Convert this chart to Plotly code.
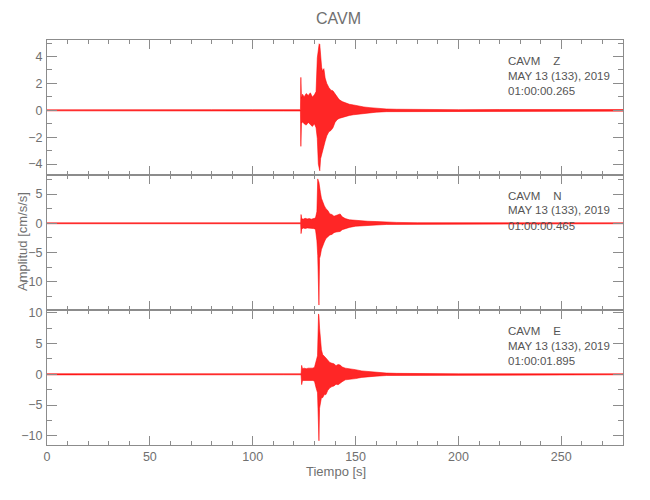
import plotly.graph_objects as go
from plotly.subplots import make_subplots

# ---------------- data (envelopes) ----------------
station = "CAVM"
components = ["Z", "N", "E"]
date_label = "MAY 13 (133), 2019"
start_times = ["01:00:00.265", "01:00:00.465", "01:00:01.895"]

t_z = [0, 20, 35, 45, 60, 80, 100, 115, 123.2, 123.4, 123.7, 124.2, 125, 126, 127, 128, 129, 130,
       130.8, 131.4, 131.9, 132.3, 132.6, 133.0, 133.5, 134, 134.6, 135.2, 136, 137, 138, 139, 140,
       141, 142, 143.5, 145, 147, 149, 151, 154, 157, 160, 165, 170, 180, 200, 220, 240, 260, 280]
hi_z = [0.04, 0.05, 0.07, 0.08, 0.05, 0.05, 0.05, 0.05, 0.05, 2.45, 0.9, 1.2, 1.0, 1.25, 1.1, 1.3, 1.0, 1.15,
        1.4, 3.9, 4.7, 4.95, 4.9, 3.9, 3.2, 2.9, 3.1, 2.4, 2.0, 1.7, 1.5, 1.45, 1.2,
        1.0, 0.8, 0.65, 0.55, 0.45, 0.4, 0.33, 0.25, 0.2, 0.15, 0.1, 0.08, 0.06, 0.05, 0.06, 0.06, 0.07, 0.06]
lo_z = [-0.04, -0.05, -0.07, -0.08, -0.05, -0.05, -0.05, -0.05, -0.05, -2.68, -1.0, -0.85, -1.0, -1.1, -0.9, -1.05, -1.2, -1.0,
        -1.3, -2.1, -4.0, -4.2, -4.5, -3.6, -3.4, -3.05, -2.7, -2.3, -1.9, -1.6, -1.5, -1.3, -0.9,
        -0.7, -0.6, -0.5, -0.45, -0.38, -0.33, -0.3, -0.22, -0.18, -0.14, -0.1, -0.08, -0.06, -0.05, -0.06, -0.06, -0.07, -0.06]

t_n = [0, 30, 60, 90, 115, 123.3, 123.5, 123.8, 124.5, 125.5, 126.5, 127.5, 128.5, 129.5, 130.5, 131.2,
       131.6, 131.9, 132.2, 132.5, 132.9, 133.4, 134, 134.8, 135.6, 136.5, 137.5, 138.5, 139.5, 140.5,
       141.5, 142.5, 143.5, 145, 147, 150, 153, 156, 160, 165, 170, 180, 200, 230, 260, 280]
hi_n = [0.08, 0.08, 0.08, 0.08, 0.08, 0.08, 1.5, 0.8, 0.7, 0.85, 0.75, 0.8, 0.7, 0.8, 0.9, 2.0,
        7.6, 7.3, 7.0, 6.0, 5.3, 4.3, 3.6, 3.0, 2.5, 2.2, 1.6, 1.5, 1.2, 1.3,
        1.5, 1.6, 1.1, 0.8, 0.6, 0.5, 0.45, 0.35, 0.3, 0.2, 0.15, 0.1, 0.08, 0.08, 0.08, 0.08]
lo_n = [-0.08, -0.08, -0.08, -0.08, -0.08, -0.08, -1.77, -1.0, -0.8, -0.9, -0.8, -0.9, -0.85, -0.9, -1.0, -3.0,
        -5.5, -8.0, -14.0, -6.0, -5.5, -4.5, -3.8, -3.2, -2.6, -2.3, -2.0, -1.9, -1.6, -1.5,
        -1.4, -1.4, -1.1, -0.9, -0.7, -0.5, -0.45, -0.35, -0.3, -0.2, -0.15, -0.1, -0.08, -0.08, -0.08, -0.08]

t_e = [0, 30, 60, 90, 115, 123.5, 123.8, 124.2, 125, 126, 127, 128, 129, 130, 130.8, 131.5,
       132.0, 132.2, 132.5, 132.9, 133.4, 134, 134.8, 135.6, 136.5, 137.5, 138.5, 139.5, 140.5,
       141.5, 142.5, 143.5, 145, 147, 150, 153, 156, 160, 165, 170, 180, 200, 230, 260, 280]
hi_e = [0.1, 0.08, 0.08, 0.08, 0.08, 0.08, 1.45, 0.9, 1.0, 0.9, 1.0, 0.95, 1.0, 1.1, 2.1, 3.0,
        9.8, 9.5, 7.5, 5.3, 4.0, 3.2, 3.0, 2.65, 2.3, 1.9, 1.8, 1.7, 1.4,
        1.6, 1.5, 1.2, 1.0, 0.85, 0.75, 0.55, 0.45, 0.35, 0.2, 0.15, 0.1, 0.08, 0.08, 0.08, 0.08]
lo_e = [-0.1, -0.08, -0.08, -0.08, -0.08, -0.08, -1.68, -1.0, -0.9, -1.0, -0.95, -1.0, -1.0, -1.1, -2.2, -3.0,
        -7.0, -10.8, -5.5, -4.5, -3.8, -3.8, -3.3, -3.3, -2.6, -2.2, -2.0, -1.9, -1.6,
        -1.7, -1.5, -1.2, -0.9, -0.8, -0.7, -0.5, -0.4, -0.3, -0.2, -0.15, -0.1, -0.08, -0.08, -0.08, -0.08]

traces = [(t_z, hi_z, lo_z), (t_n, hi_n, lo_n), (t_e, hi_e, lo_e)]
y_ranges = [[-4.81, 5.23], [-14.85, 8.27], [-11.48, 10.44]]
y_dticks = [2, 5, 5]
x_range = [0, 280]

# ---------------- figure ----------------
FONT = "Liberation Sans Narrow, Liberation Sans, Arial, sans-serif"
AX = "#8c8c8c"
TXT = "#707070"

fig = make_subplots(rows=3, cols=1, shared_xaxes=True, vertical_spacing=0)

for i, (t, hi, lo) in enumerate(traces):
    assert len(t) == len(hi) == len(lo)
    fig.add_trace(go.Scatter(
        x=list(t) + list(t)[::-1], y=list(hi) + list(lo)[::-1],
        mode="lines", fill="toself", fillcolor="rgba(255,0,0,0.85)",
        line=dict(color="rgba(255,0,0,0.9)", width=0.6), hoverinfo="skip", showlegend=False),
        row=i + 1, col=1)

for i in range(3):
    fig.update_xaxes(
        row=i + 1, col=1, range=x_range, showline=True, linecolor=AX, linewidth=1,
        mirror="ticks", ticks="inside", ticklen=9, tickcolor=AX, dtick=50, tick0=0,
        minor=dict(ticks="inside", ticklen=4, dtick=10, tickcolor=AX),
        showgrid=False, zeroline=False, showticklabels=(i == 2), automargin=False,
        tickfont=dict(family=FONT, size=12.5, color=TXT))
    fig.update_yaxes(
        row=i + 1, col=1, range=y_ranges[i], showline=True, linecolor=AX, linewidth=1,
        mirror="ticks", ticks="inside", ticklen=10, tickcolor=AX, dtick=y_dticks[i], tick0=0,
        minor=dict(ticks="inside", ticklen=5, dtick=y_dticks[i] / 2, tickcolor=AX),
        showgrid=False, zeroline=False, ticklabelstandoff=1, automargin=False,
        tickfont=dict(family=FONT, size=12.5, color=TXT))

# the page body has an 8px margin: lay the figure out in window pixels minus that offset
OFF = 8
W, H = 650 - OFF, 500 - OFF
L, R, T, B = 47 - OFF, 27, 40 - OFF, 55
pw, ph = W - L - R, H - T - B
panel_h = ph / 3
fig.update_layout(
    width=W, height=H, margin=dict(l=L, r=R, t=T, b=B, autoexpand=False),
    paper_bgcolor="white", plot_bgcolor="white",
    font=dict(family=FONT, color=TXT),
    yaxis=dict(domain=[2 / 3, 1]), yaxis2=dict(domain=[1 / 3, 2 / 3]), yaxis3=dict(domain=[0, 1 / 3]),
)

def px_x(p):
    return (p - OFF - L) / pw

def px_y(p):
    return (H - B - (p - OFF)) / ph

ann = []
ann.append(dict(text=station, x=px_x(338), y=px_y(18), xref="paper", yref="paper",
                showarrow=False, font=dict(family=FONT, size=16, color=TXT),
                xanchor="center", yanchor="middle"))
ann.append(dict(text="Tiempo [s]", x=px_x(336), y=px_y(471), xref="paper", yref="paper",
                showarrow=False, font=dict(family=FONT, size=13, color=TXT),
                xanchor="center", yanchor="middle"))
ann.append(dict(text="Amplitud [cm/s/s]", x=px_x(22), y=px_y(242), xref="paper", yref="paper",
                showarrow=False, textangle=-90, font=dict(family=FONT, size=13, color=TXT),
                xanchor="center", yanchor="middle"))
for i in range(3):
    top = 40 + i * panel_h
    lines = [station + "\u00a0\u00a0\u00a0\u00a0" + components[i], date_label, start_times[i]]
    offs = [21, 35.5, 50.5]
    for ln, off in zip(lines, offs):
        ann.append(dict(text=ln, x=px_x(506), y=px_y(top + off), xref="paper", yref="paper",
                        showarrow=False, font=dict(family=FONT, size=11.5, color="#555555"),
                        xanchor="left", yanchor="middle"))
fig.update_layout(annotations=ann)

fig.write_html("out.html")
